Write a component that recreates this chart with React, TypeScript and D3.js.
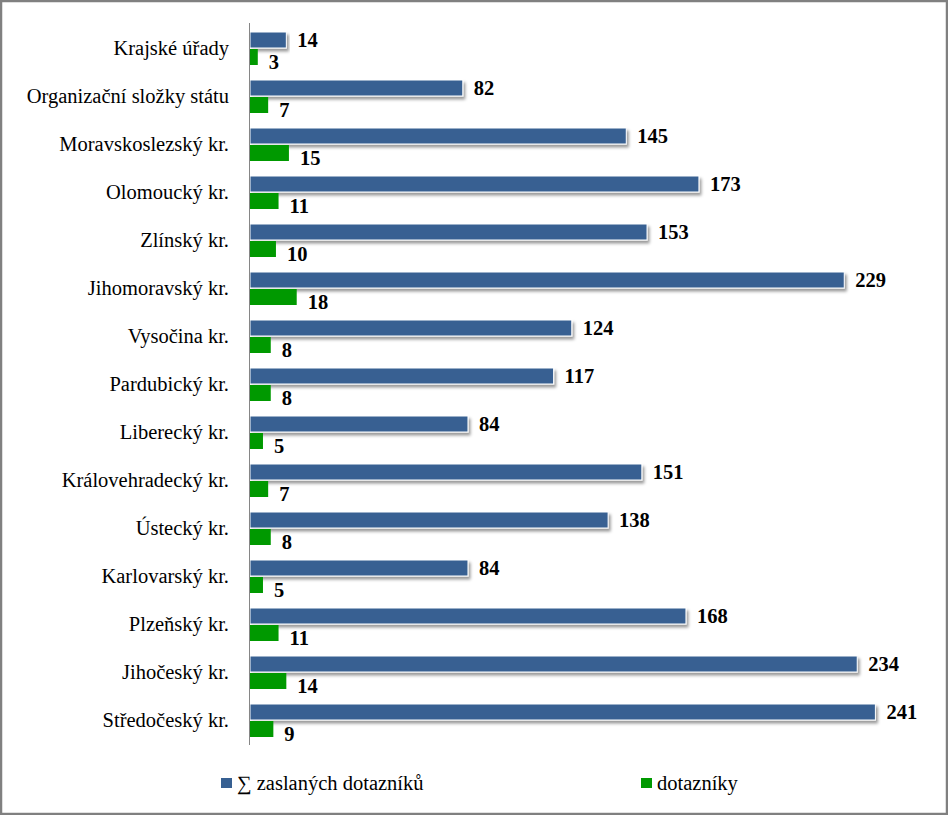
import React from "react";
import * as d3 from "d3";

const categories = [
  "Krajské úřady",
  "Organizační složky státu",
  "Moravskoslezský kr.",
  "Olomoucký kr.",
  "Zlínský kr.",
  "Jihomoravský kr.",
  "Vysočina kr.",
  "Pardubický kr.",
  "Liberecký kr.",
  "Královehradecký kr.",
  "Ústecký kr.",
  "Karlovarský kr.",
  "Plzeňský kr.",
  "Jihočeský kr.",
  "Středočeský kr.",
];
const sentValues = [14, 82, 145, 173, 153, 229, 124, 117, 84, 151, 138, 84, 168, 234, 241];
const returnedValues = [3, 7, 15, 11, 10, 18, 8, 8, 5, 7, 8, 5, 11, 14, 9];
const seriesNames = ["∑ zaslaných dotazníků", "dotazníky"];
const colors = ["#376092", "#009900"];

const W = 948;
const H = 815;
const FONT = "'Liberation Serif', 'Times New Roman', Times, serif";

export default function App() {
  const x = d3.scaleLinear().domain([0, 250]).range([250, 898.75]);
  const y = d3.scaleBand<string>().domain(categories).range([24, 744]);
  const bw = 16;

  return (
    <svg
      width={W}
      height={H}
      style={{ position: "absolute", left: 0, top: 0, background: "#fff" }}
    >
      <defs>
        <filter id="shadow" x="-5%" y="-50%" width="115%" height="250%">
          <feDropShadow dx="2" dy="3" stdDeviation="1.5" floodColor="#000" floodOpacity="0.4" />
        </filter>
      </defs>
      <rect x={1} y={1} width={W - 2} height={H - 2} fill="#fff" stroke="#808080" strokeWidth={2.5} />

      {categories.map((c, i) => {
        const y0 = y(c)!;
        const cy = y0 + y.bandwidth() / 2;
        return (
          <g key={c}>
            <text
              x={229}
              y={cy}
              textAnchor="end"
              dominantBaseline="central"
              fontFamily={FONT}
              fontSize={20.5}
              fill="#000"
            >
              {c}
            </text>
            <rect
              x={x(0)}
              y={y0 + 8}
              width={x(sentValues[i]) - x(0)}
              height={bw}
              fill={colors[0]}
              stroke="#fff"
              strokeWidth={1}
              filter="url(#shadow)"
            />
            <rect
              x={x(0)}
              y={y0 + 25}
              width={x(returnedValues[i]) - x(0)}
              height={bw}
              fill={colors[1]}
            />
            <text
              x={x(sentValues[i]) + 11}
              y={y0 + 16}
              dominantBaseline="central"
              fontFamily={FONT}
              fontWeight="bold"
              fontSize={20.5}
              fill="#000"
            >
              {sentValues[i]}
            </text>
            <text
              x={x(returnedValues[i]) + 11}
              y={y0 + 38}
              dominantBaseline="central"
              fontFamily={FONT}
              fontWeight="bold"
              fontSize={20.5}
              fill="#000"
            >
              {returnedValues[i]}
            </text>
          </g>
        );
      })}

      <line x1={249.5} x2={249.5} y1={23} y2={745} stroke="#868686" strokeWidth={1} />

      {[
        { x: 221, label: seriesNames[0], color: colors[0] },
        { x: 641, label: seriesNames[1], color: colors[1] },
      ].map((l) => (
        <g key={l.label}>
          <rect x={l.x} y={778} width={11} height={10} fill={l.color} />
          <text x={l.x + 16} y={790} fontFamily={FONT} fontSize={20.5} fill="#000">
            {l.label}
          </text>
        </g>
      ))}
    </svg>
  );
}
